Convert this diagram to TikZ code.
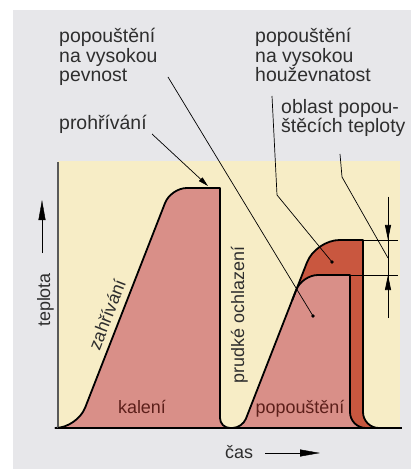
\documentclass[tikz,border=0pt]{standalone}
\usepackage{fontspec}
\setmainfont{Liberation Sans}
\usetikzlibrary{arrows.meta}
\definecolor{panel}{HTML}{E7E7EA}
\definecolor{cream}{HTML}{F7EDC6}
\definecolor{rose}{HTML}{D98F88}
\definecolor{brick}{HTML}{C9573F}
\definecolor{ink}{HTML}{2E2E2E}
\definecolor{maroon}{HTML}{5C1F1A}
\tikzset{
  curve/.style={line width=1.8bp,line join=round},
  leader/.style={line width=.7bp},
  lbl/.style={inner sep=0pt,align=left,text=ink},
  toplbl/.style={lbl,font=\fontsize{19.5}{20}\selectfont},
}
\begin{document}
\begin{tikzpicture}[x=1bp,y=-1bp,>={Triangle[length=20bp,width=7bp]},font=\fontsize{18}{20}\selectfont]
\useasboundingbox (0,0) rectangle (411,469);
\fill[panel](13,10) rectangle (411,469);
\fill[cream](58,161) rectangle (400,428);
% tempering zone
\fill[brick](292.3,300)[rounded corners=24]--(315.7,240)[sharp corners]--(363,240)[rounded corners=16]--(363,428)[sharp corners]--(380,428)--(300,428)--cycle;
% hardening + tempering curve
\draw[curve,fill=rose](58,428)[rounded corners=22]--(77.2,428)[rounded corners=16]--(170.9,188)[sharp corners]--(220,188)[rounded corners=10]--(220,428)--(242.3,428)[rounded corners=16]--(302,275)[sharp corners]--(350,275)[rounded corners=16]--(350,428)--(372,428);
\draw[curve](292.3,300)[rounded corners=24]--(315.7,240)[sharp corners]--(363,240)[rounded corners=16]--(363,428)--(380,428);
% axes
\draw[line width=1.2bp,black!65](58,162)--(58,428);
\draw[curve](58,428)--(402,428);
% range of tempering temperatures
\coordinate (dimA) at (388,197);
\coordinate (dimT) at (388,240);
\coordinate (dimB) at (388,275);
\coordinate (dimZ) at (388,318);
\draw[leader](363,240)--(398,240);
\draw[leader](350,275)--(398,275);
\draw[leader](dimA)--(dimZ);
\draw[leader,-{Triangle[length=15bp,width=6bp]}](dimA)--(dimT);
\draw[leader,-{Triangle[length=15bp,width=6bp]}](dimZ)--(dimB);
% labels
\node[toplbl,anchor=base west] (pev) at (59,82) {popouštění\\na vysokou\\pevnost};
\node[toplbl,anchor=base west] (proh) at (59,130) {prohřívání};
\node[toplbl,anchor=base west] (hou) at (255,82) {popouštění\\na vysokou\\houževnatost};
\node[toplbl,anchor=base west] (obl) at (281,133) {oblast popou-\\štěcích teploty};
\node[lbl,rotate=90,anchor=base] (tep) at (50,300) {teplota};
\node[lbl,anchor=base west] (cas) at (225,458) {čas};
\node[lbl,rotate=68.7,anchor=base] (zah) at (113,317) {zahřívání};
\node[lbl,rotate=90,anchor=base] (prud) at (244,315) {prudké ochlazení};
\node[lbl,text=maroon,anchor=base] (kal) at (142,413) {kalení};
\node[lbl,text=maroon,anchor=base] (popo) at (300,413) {popouštění};
% axis arrows
\coordinate (tep-a) at (42,253);
\coordinate (tep-b) at (42,200);
\coordinate (cas-a) at (265,453);
\coordinate (cas-b) at (320,453);
\draw[->](tep-a)--(tep-b);
\draw[->](cas-a)--(cas-b);
% leaders
\coordinate (proh-s) at (152,134);
\coordinate (proh-e) at (208,186);
\coordinate (pev-s) at (168,77);
\coordinate (pev-e) at (313,316);
\coordinate (hou-s) at (272,96);
\coordinate (hou-k) at (277,195);
\coordinate (hou-e) at (332,262);
\coordinate (obl-s) at (340,154);
\coordinate (obl-k) at (342,177);
\coordinate (obl-e) at (388,258);
\draw[leader,-{Triangle[length=10bp,width=5bp]}](proh-s)--(proh-e);
\draw[leader](pev-s)--(pev-e);
\draw[leader](hou-s)--(hou-k)--(hou-e);
\draw[leader](obl-s)--(obl-k)--(obl-e);
\fill(pev-e) circle[radius=1.8bp];
\fill(hou-e) circle[radius=1.8bp];
\end{tikzpicture}
\end{document}
